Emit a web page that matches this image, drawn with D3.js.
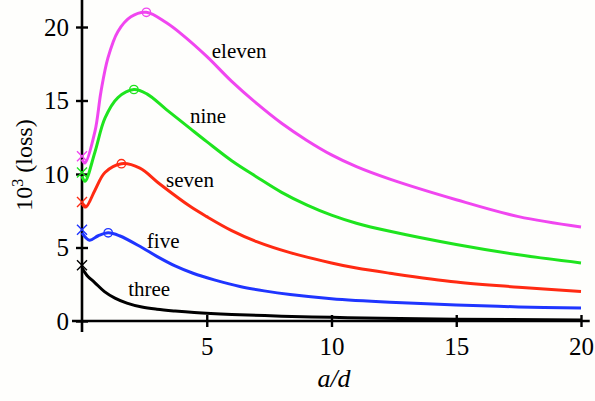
<!DOCTYPE html>
<html>
<head>
<meta charset="utf-8">
<script src="https://cdn.jsdelivr.net/npm/d3@7"></script>
<style>
  body { margin: 0; background: #fefefc; }
  svg { display: block; }
  svg text { font-family: 'Liberation Serif', 'Times New Roman', serif; }
</style>
</head>
<body>
<div class="svg-container"></div>
<script>
//chart size
const W = 595, H = 401;
const margin = { top: 27, right: 14, bottom: 80, left: 82 };

//curve names and colours
const names = ['three', 'five', 'seven', 'nine', 'eleven'];
const colors = ['#000000', '#1f35ff', '#ff2a12', '#1ee41e', '#f046f0'];

//[a/d, 10^3 loss]
const three = [[0,3.6],[0.2,3.1],[0.52,2.6],[0.9,2.0],[1.32,1.56],[1.8,1.22],[2.4,0.95],[3,0.8],[3.73,0.68],
  [4.5,0.58],[6,0.45],[8,0.33],[10,0.25],[12,0.18],[15,0.12],[20,0.07]];
const five = [[0,6.0],[0.3,5.5],[0.65,5.8],[1.05,6.0],[1.5,5.8],[2.4,5.0],[3.0,4.4],[3.73,3.75],[4.45,3.25],
  [5.3,2.8],[6.33,2.35],[7.3,2.05],[8.34,1.8],[10,1.52],[12.34,1.28],[15,1.09],[17.5,0.96],[20,0.88]];
const seven = [[0,8.0],[0.15,7.75],[0.52,8.9],[0.92,10.1],[1.58,10.7],[2.32,10.4],[3.13,9.3],
  [4.33,7.8],[5,7.1],[6,6.15],[7,5.4],[8.34,4.65],[10,3.95],[11,3.6],[12.34,3.25],[15,2.65],[17.5,2.3],[20,2.0]];
const nine = [[0,9.85],[0.12,9.5],[0.52,11.5],[0.92,13.8],[1.44,15.2],[2.08,15.75],[2.6,15.45],[3.37,14.4],
  [4.33,13.1],[5,12.2],[6,10.9],[7,9.8],[8,8.75],[9,7.9],[10,7.2],[11,6.65],[12.34,6.1],
  [15,5.2],[17.5,4.5],[20,3.95]];
const eleven = [[0,11.0],[0.12,10.75],[0.52,12.9],[0.76,15.6],[1.04,17.9],[1.44,19.7],[1.96,20.7],[2.58,21.0],
  [3.37,20.3],[4,19.5],[5,18.0],[6,16.3],[7,14.8],[8,13.45],[9,12.3],[10,11.3],[11,10.5],[12.34,9.65],
  [15,8.25],[17.5,7.1],[20,6.4]];
const curves = [three, five, seven, nine, eleven];

//x markers on the axis and o markers at the peaks
const crossLoss = [3.8, 6.2, 8.1, 10.1, 11.2];
const peaks = [null, [1.05,6.0], [1.58,10.7], [2.08,15.75], [2.58,21.0]];

//label anchors [a/d, loss]
const labelPos = [[1.85,1.7], [2.6,5.0], [3.37,9.1], [4.33,13.5], [5.2,17.9]];

const xTicks = [5, 10, 15, 20];
const yTicks = [0, 5, 10, 15, 20];

const serif = "'Liberation Serif', 'Times New Roman', serif";

const svg = d3.select('.svg-container')
  .append('svg')
  .attr('width', W)
  .attr('height', H);

const x = d3.scaleLinear().domain([0, 20]).range([margin.left, W - margin.right]);
const y = d3.scaleLinear().domain([0, 20]).range([H - margin.bottom, margin.top]);

//axis lines (drawn past the data range like the original)
svg.append('line')
  .attr('x1', x(0)).attr('x2', x(0))
  .attr('y1', y(21.85)).attr('y2', y(0) + 11)
  .attr('stroke', '#000').attr('stroke-width', 2.6);
svg.append('line')
  .attr('x1', x(0) - 10).attr('x2', x(20.35))
  .attr('y1', y(0)).attr('y2', y(0))
  .attr('stroke', '#000').attr('stroke-width', 2.6);

//y axis
const yAxis = svg.append('g')
  .attr('transform', `translate(${x(0)},0)`)
  .call(d3.axisLeft(y).tickValues(yTicks).tickSize(6).tickPadding(7))
  .attr('font-family', serif)
  .call(g => g.select('.domain').remove());
yAxis.selectAll('.tick line').attr('x1', -6).attr('x2', 6).attr('stroke-width', 2.4);
yAxis.selectAll('.tick text')
  .style('font-family', serif).attr('font-size', 25).attr('fill', '#000');

//x axis
const xAxis = svg.append('g')
  .attr('transform', `translate(0,${y(0)})`)
  .call(d3.axisBottom(x).tickValues(xTicks).tickSize(6).tickPadding(10))
  .attr('font-family', serif)
  .call(g => g.select('.domain').remove());
xAxis.selectAll('.tick line').attr('y1', -6).attr('y2', 6).attr('stroke-width', 2.4);
xAxis.selectAll('.tick text')
  .style('font-family', serif).attr('font-size', 25).attr('fill', '#000');

//axis titles
svg.append('text')
  .attr('x', x(10.1)).attr('y', 387)
  .attr('text-anchor', 'middle')
  .attr('font-size', 26).attr('font-style', 'italic')
  .text('a/d');

const yTitle = svg.append('text')
  .attr('transform', 'translate(32,165) rotate(-90)')
  .attr('text-anchor', 'middle')
  .attr('font-size', 24);
yTitle.append('tspan').text('10');
yTitle.append('tspan').attr('dy', -9).attr('font-size', 16).text('3');
yTitle.append('tspan').attr('dy', 9).text('\u00a0(loss)');

//curves
const line = d3.line()
  .x(d => x(d[0]))
  .y(d => y(d[1]))
  .curve(d3.curveCatmullRom.alpha(0.5));

svg.selectAll('.curve')
  .data(curves)
  .join('path')
  .attr('class', 'curve')
  .attr('d', line)
  .attr('fill', 'none')
  .attr('stroke', (d, i) => colors[i])
  .attr('stroke-width', 3)
  .attr('stroke-linejoin', 'round');

//x markers
svg.selectAll('.cross')
  .data(crossLoss)
  .join('path')
  .attr('class', 'cross')
  .attr('transform', d => `translate(${x(0)},${y(d)})`)
  .attr('d', 'M-5,-5L5,5M-5,5L5,-5')
  .attr('fill', 'none')
  .attr('stroke', (d, i) => colors[i])
  .attr('stroke-width', 1.4);

//o markers at the peaks
svg.selectAll('.peak')
  .data(peaks.map((p, i) => ({ p, i })).filter(d => d.p))
  .join('circle')
  .attr('class', 'peak')
  .attr('cx', d => x(d.p[0]))
  .attr('cy', d => y(d.p[1]))
  .attr('r', 4.2)
  .attr('fill', 'none')
  .attr('stroke', d => colors[d.i])
  .attr('stroke-width', 1.3);

//curve labels
svg.selectAll('.curve-label')
  .data(names)
  .join('text')
  .attr('class', 'curve-label')
  .attr('x', (d, i) => x(labelPos[i][0]))
  .attr('y', (d, i) => y(labelPos[i][1]))
  .attr('font-size', 21)
  .attr('fill', '#000')
  .text(d => d);
</script>
</body>
</html>
